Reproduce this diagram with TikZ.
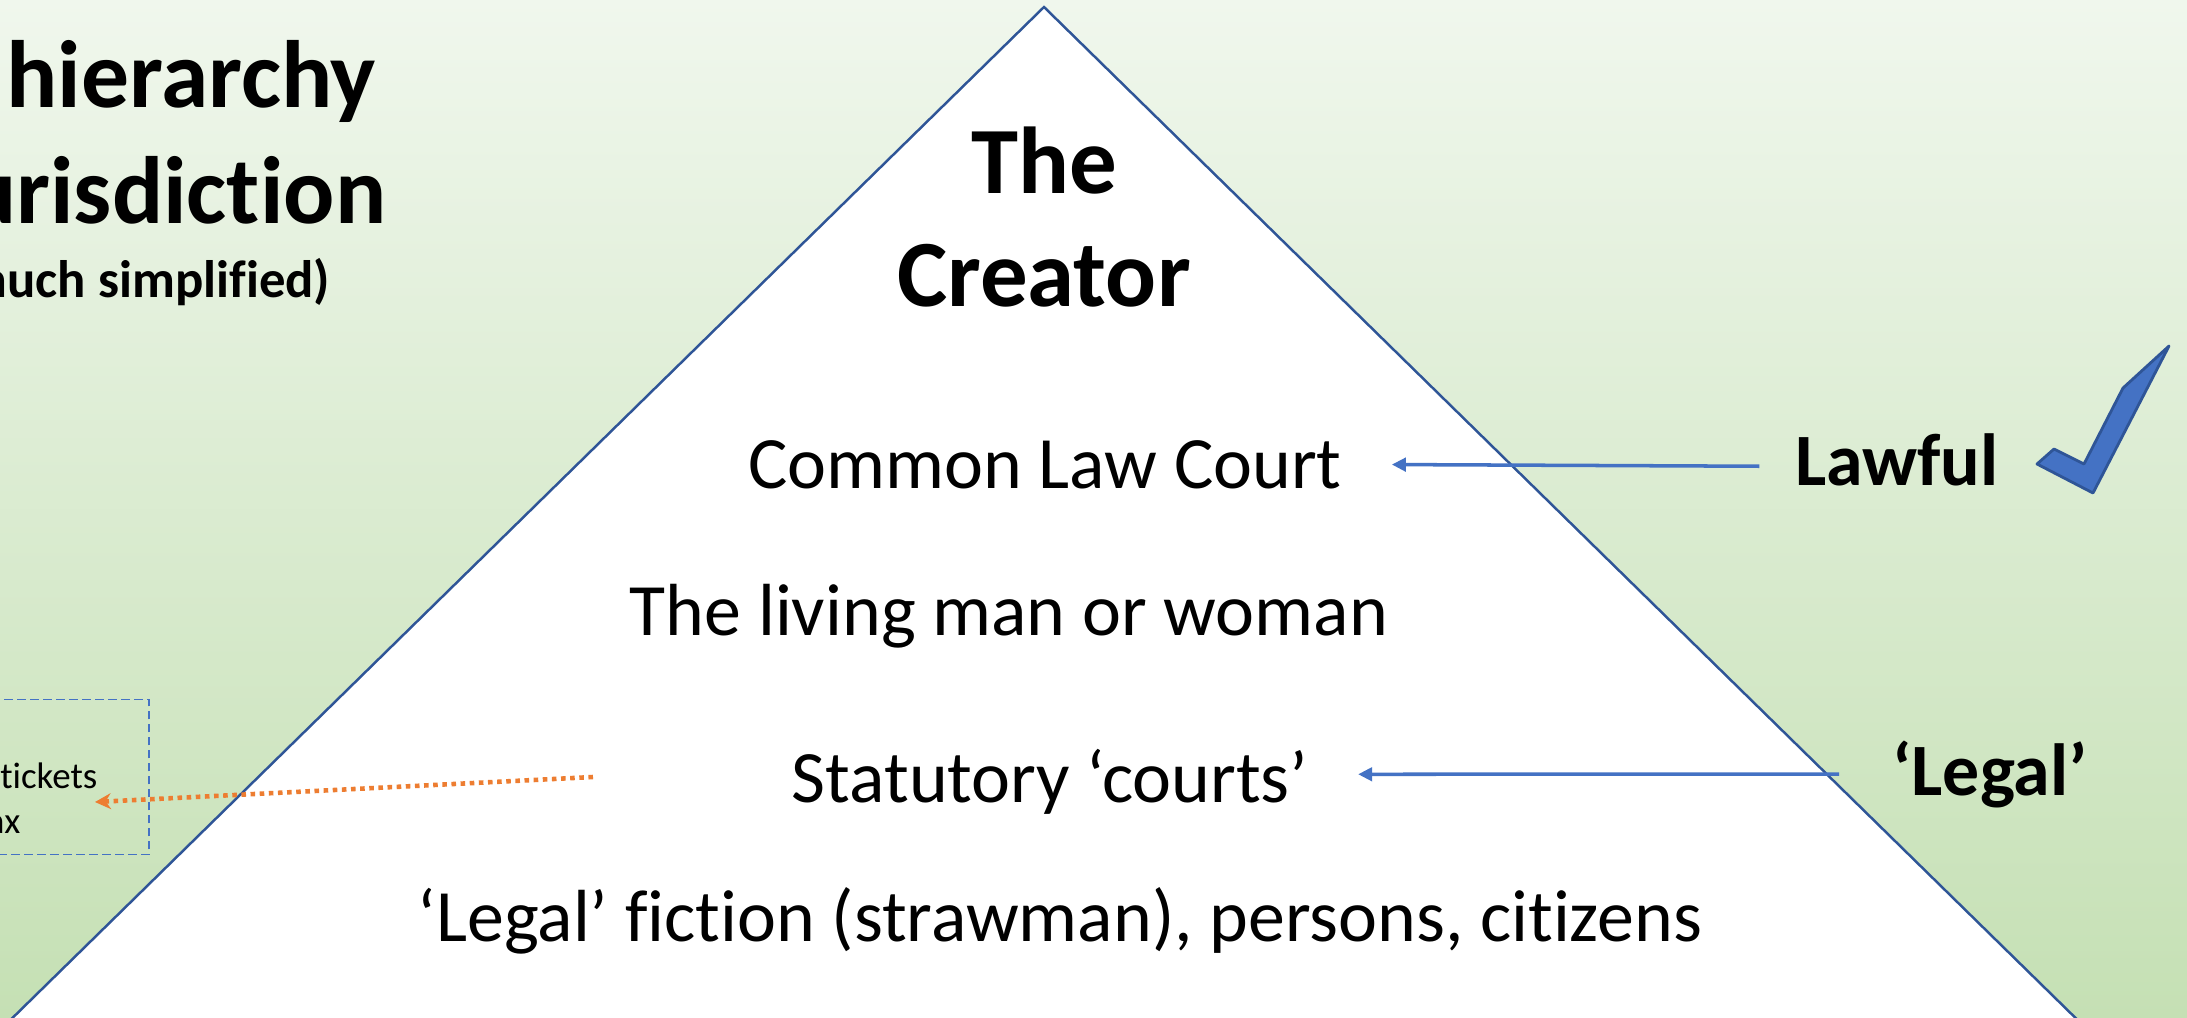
\documentclass[tikz,border=0pt]{standalone}
\usepackage{fontspec}
\setmainfont{Carlito}[Ligatures=NoCommon]
\usetikzlibrary{arrows.meta}
\definecolor{bgtop}{RGB}{240,247,237}
\definecolor{bgbot}{RGB}{197,224,180}
\definecolor{edgeblue}{RGB}{47,85,151}
\definecolor{arrowblue}{RGB}{68,114,196}
\definecolor{dotorange}{RGB}{237,125,49}
\begin{document}
\begin{tikzpicture}[x=0.01cm,y=0.01cm,
  leveltext/.style={font=\fontsize{21}{25}\selectfont, inner sep=0pt},
  sidetext/.style={font=\bfseries\fontsize{21}{25}\selectfont, inner sep=0pt},
  headtext/.style={font=\bfseries\fontsize{27.2}{32}\selectfont, inner sep=0pt},
  subhead/.style={font=\bfseries\fontsize{15}{18}\selectfont, inner sep=0pt},
  boxtext/.style={font=\fontsize{10.5}{13}\selectfont, inner sep=0pt},
  pointer/.style={draw=arrowblue, line width=1pt, -{Triangle[length=4pt,width=3.8pt]}},
  dotpointer/.style={draw=dotorange, line width=1.3pt, dash pattern=on 1.3pt off 1.3pt, -{Stealth[length=4.5pt,width=4.5pt]}},
  finebox/.style={draw=arrowblue, line width=0.5pt, dash pattern=on 2.5pt off 1.2pt, minimum width=4.5cm, minimum height=1.55cm}]
\useasboundingbox (0,0) rectangle (2187,-1017);
\clip (0,0) rectangle (2187,-1017);
\shade [top color=bgtop, bottom color=bgbot] (0,0) rectangle (2187,-1017);
\filldraw [fill=white, draw=edgeblue, line width=0.7pt] (1044,-7) -- (2096,-1038) -- (-8,-1038) -- cycle;
\node [headtext, anchor=base east] (head1) at (377,-107) {hierarchy};
\node [headtext, anchor=base east] (head2) at (387,-223) {urisdiction};
\node [subhead, anchor=base east] (head3) at (331,-297) {much simplified)};
\node [font=\bfseries\fontsize{27}{32}\selectfont, align=center, inner sep=0pt] (creator) at (1044,-217) {The\\Creator};
\node [leveltext, anchor=base] (court) at (1045,-488) {Common Law Court};
\node [leveltext, anchor=base] (living) at (1009,-635) {The living man or woman};
\node [leveltext, anchor=base] (statutory) at (1050,-802) {Statutory ‘courts’};
\node [leveltext, anchor=base] (fiction) at (1060,-941) {‘Legal’ fiction (strawman), persons, citizens};
\node [sidetext, anchor=base] (lawful) at (1897,-485) {Lawful};
\node [sidetext, anchor=base] (legal) at (1990,-795) {‘Legal’};
\filldraw [fill=arrowblue, draw=edgeblue, line width=0.8pt, line join=round] (2037,-464) -- (2054,-449) -- (2084,-464) -- (2123,-388) -- (2169,-346) -- (2093,-493) -- cycle;
\node [finebox] (fines) at (-76,-777) {};
\node [boxtext, anchor=base east] (tickets) at (98,-788) {tickets};
\node [boxtext, anchor=base east] (tax) at (21,-833) {ax};
\coordinate (dotfrom) at (593,-777);
\coordinate (dotto) at (95,-802);
\draw [pointer, shorten <=10pt, shorten >=14pt] ([yshift=-2pt]lawful.west) -- (court.east);
\draw [pointer, shorten <=15pt, shorten >=14pt] (legal.west) -- ([yshift=2pt]statutory.east);
\draw [dotpointer] (dotfrom) -- (dotto);
\end{tikzpicture}
\end{document}
